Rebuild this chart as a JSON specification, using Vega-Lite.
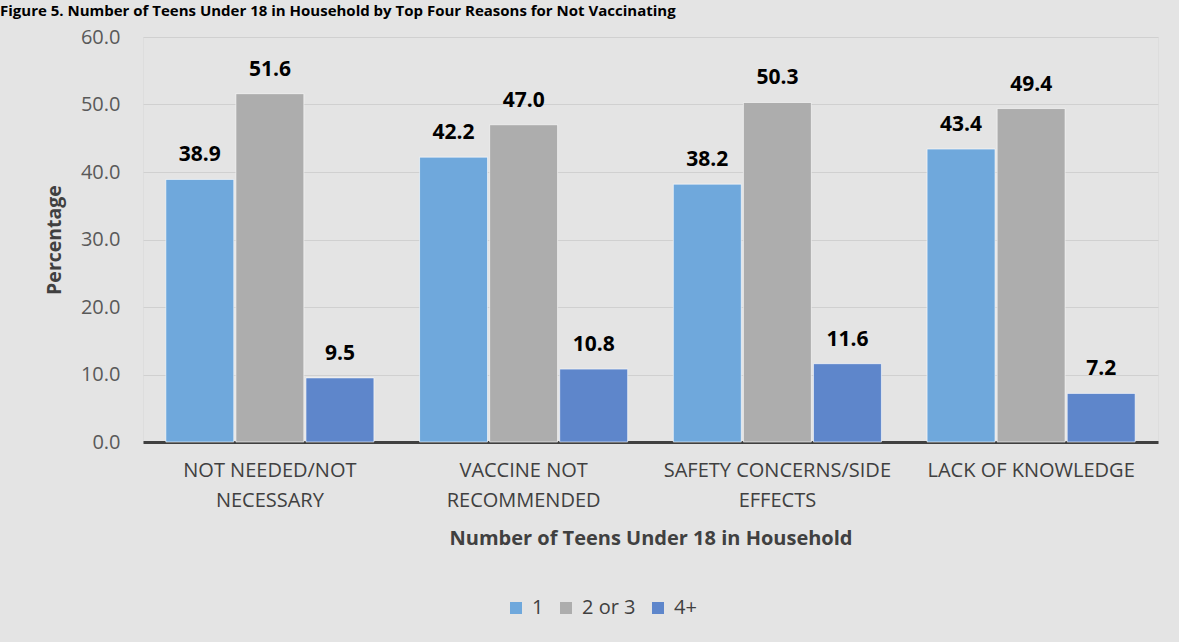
{
  "$schema": "https://vega.github.io/schema/vega-lite/v6.json",
  "width": 1015,
  "height": 405,
  "autosize": {"type": "none"},
  "padding": {"left": 143, "top": 37, "right": 21, "bottom": 200},
  "background": "#e4e4e4",
  "title": {
    "text": "Figure 5. Number of Teens Under 18 in Household by Top Four Reasons for Not Vaccinating",
    "anchor": "start",
    "frame": "group",
    "dx": -143,
    "dy": 4,
    "offset": 0,
    "baseline": "alphabetic",
    "font": "Open Sans",
    "fontSize": 15,
    "fontWeight": "bold",
    "color": "#000000"
  },
  "data": {
    "values": [
      {"reason": "NOT NEEDED/NOT NECESSARY", "teens": "1", "pct": 38.9},
      {"reason": "NOT NEEDED/NOT NECESSARY", "teens": "2 or 3", "pct": 51.6},
      {"reason": "NOT NEEDED/NOT NECESSARY", "teens": "4+", "pct": 9.5},
      {"reason": "VACCINE NOT RECOMMENDED", "teens": "1", "pct": 42.2},
      {"reason": "VACCINE NOT RECOMMENDED", "teens": "2 or 3", "pct": 47.0},
      {"reason": "VACCINE NOT RECOMMENDED", "teens": "4+", "pct": 10.8},
      {"reason": "SAFETY CONCERNS/SIDE EFFECTS", "teens": "1", "pct": 38.2},
      {"reason": "SAFETY CONCERNS/SIDE EFFECTS", "teens": "2 or 3", "pct": 50.3},
      {"reason": "SAFETY CONCERNS/SIDE EFFECTS", "teens": "4+", "pct": 11.6},
      {"reason": "LACK OF KNOWLEDGE", "teens": "1", "pct": 43.4},
      {"reason": "LACK OF KNOWLEDGE", "teens": "2 or 3", "pct": 49.4},
      {"reason": "LACK OF KNOWLEDGE", "teens": "4+", "pct": 7.2}
    ]
  },
  "encoding": {
    "x": {
      "field": "reason",
      "type": "nominal",
      "sort": ["NOT NEEDED/NOT NECESSARY", "VACCINE NOT RECOMMENDED", "SAFETY CONCERNS/SIDE EFFECTS", "LACK OF KNOWLEDGE"],
      "scale": {"paddingInner": 0.18, "paddingOuter": 0.09},
      "title": "Number of Teens Under 18 in Household",
      "axis": {
        "labelAngle": 0,
        "labelExpr": "datum.value == 'NOT NEEDED/NOT NECESSARY' ? ['NOT NEEDED/NOT', 'NECESSARY'] : datum.value == 'VACCINE NOT RECOMMENDED' ? ['VACCINE NOT', 'RECOMMENDED'] : datum.value == 'SAFETY CONCERNS/SIDE EFFECTS' ? ['SAFETY CONCERNS/SIDE', 'EFFECTS'] : datum.value",
        "labelFont": "Open Sans",
        "labelFontSize": 20,
        "labelColor": "#404040",
        "labelLineHeight": 30,
        "labelLimit": 0,
        "labelPadding": 18,
        "ticks": false,
        "domainColor": "#404040",
        "domainWidth": 3,
        "titleFont": "Open Sans",
        "titleFontSize": 20,
        "titleFontWeight": "bold",
        "titleColor": "#404040",
        "titlePadding": 18
      }
    },
    "xOffset": {
      "field": "teens",
      "sort": ["1", "2 or 3", "4+"],
      "scale": {"paddingInner": 0.03}
    },
    "y": {
      "field": "pct",
      "type": "quantitative",
      "scale": {"domain": [0, 60]},
      "title": "Percentage",
      "axis": {
        "values": [0, 10, 20, 30, 40, 50, 60],
        "format": ".1f",
        "labelFont": "Open Sans",
        "labelFontSize": 20,
        "labelColor": "#595959",
        "labelPadding": 23,
        "ticks": false,
        "domain": false,
        "gridColor": "#d0d0d0",
        "gridWidth": 1,
        "titleFont": "Open Sans",
        "titleFontSize": 19.5,
        "titleFontWeight": "bold",
        "titleColor": "#404040",
        "titlePadding": 16
      }
    }
  },
  "layer": [
    {
      "mark": {"type": "bar", "stroke": "#ffffff", "strokeOpacity": 0.6, "strokeWidth": 1},
      "encoding": {
        "color": {
          "field": "teens",
          "type": "nominal",
          "sort": ["1", "2 or 3", "4+"],
          "scale": {"domain": ["1", "2 or 3", "4+"], "range": ["#6fa8dc", "#adadad", "#5e86cb"]},
          "legend": {
            "title": null,
            "orient": "none",
            "direction": "horizontal",
            "legendX": 363,
            "legendY": 561,
            "symbolType": "square",
            "symbolSize": 144,
            "symbolStrokeWidth": 0,
            "labelFont": "Open Sans",
            "labelFontSize": 20,
            "labelColor": "#404040",
            "labelOffset": 6,
            "columnPadding": 12
          }
        }
      }
    },
    {
      "mark": {"type": "text", "baseline": "alphabetic", "dy": -18, "font": "Open Sans", "fontSize": 21, "fontWeight": "bold", "color": "#000000"},
      "encoding": {
        "text": {"field": "pct", "type": "quantitative", "format": ".1f"}
      }
    }
  ]
}
